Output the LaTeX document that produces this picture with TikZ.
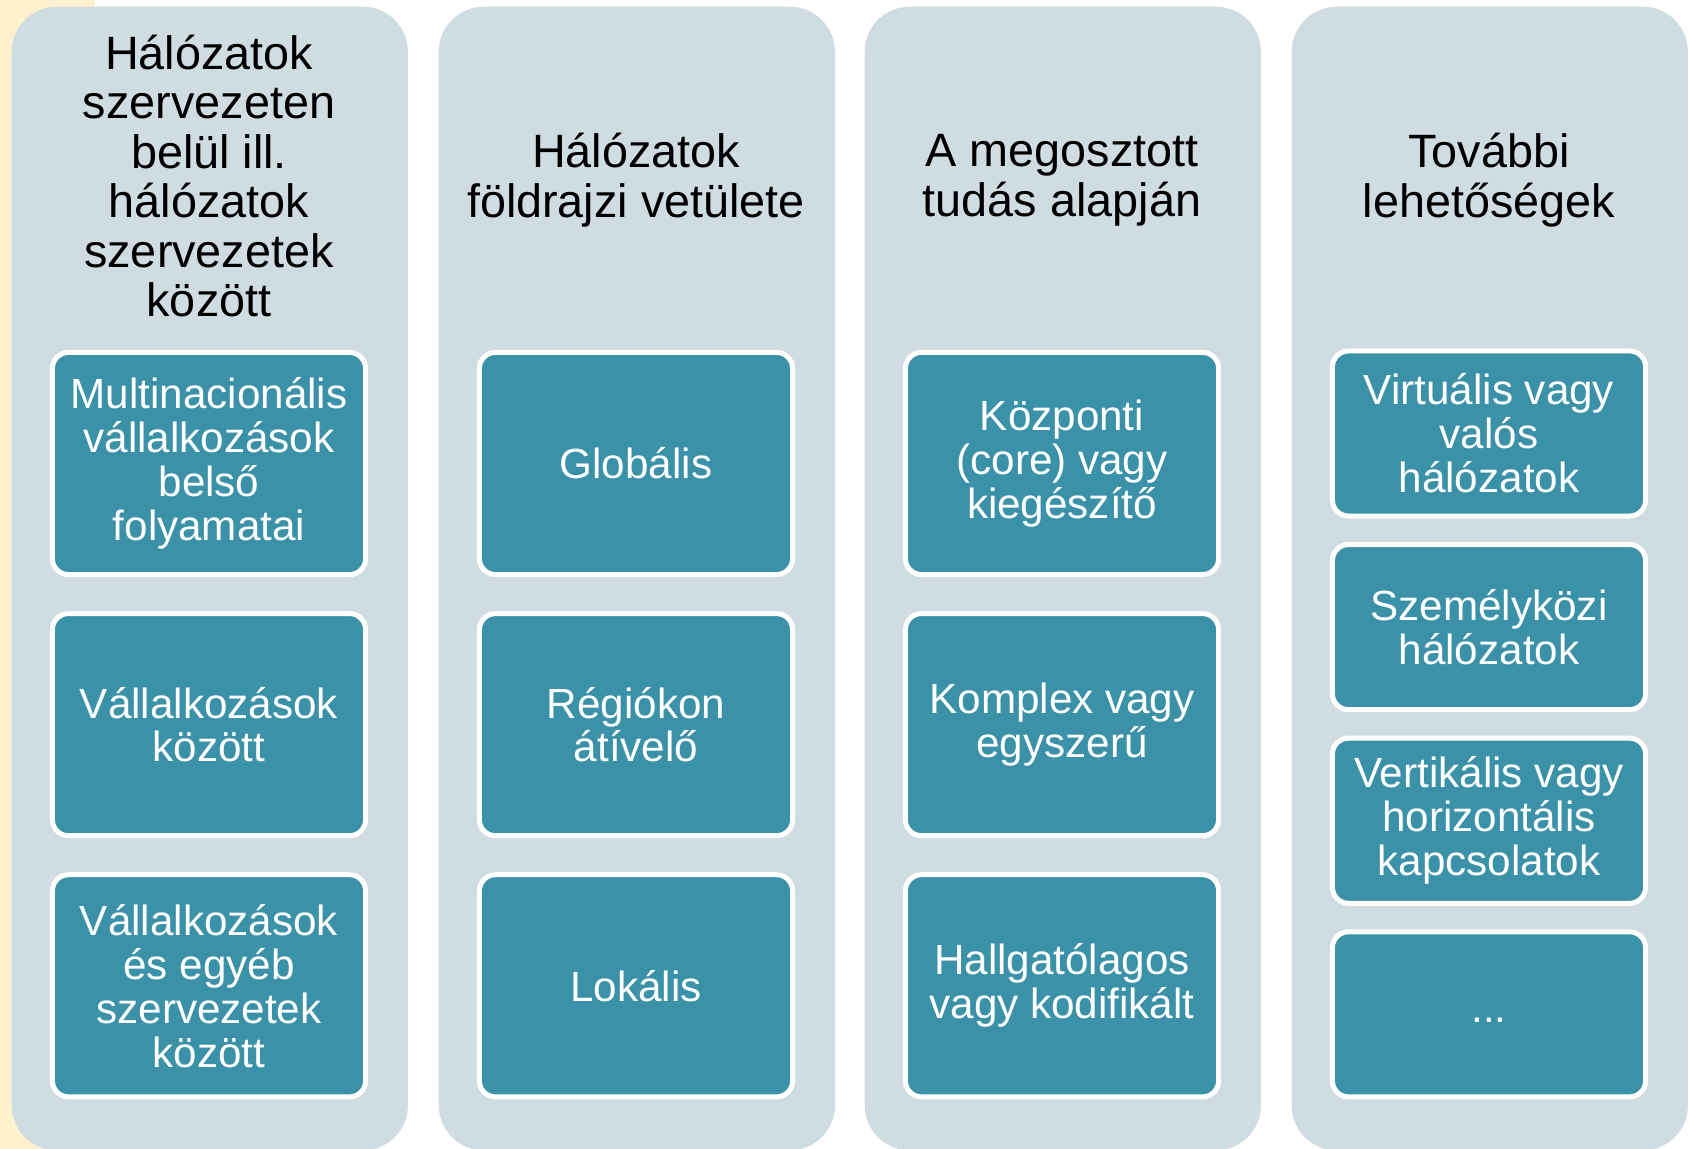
\documentclass[tikz,border=0pt]{standalone}
\usepackage{fontspec}
\setmainfont{Liberation Sans}
\usetikzlibrary{positioning}
\definecolor{cream}{RGB}{255,240,206}
\definecolor{colfill}{RGB}{207,220,226}
\definecolor{itemfill}{RGB}{58,145,168}

\begin{document}
\begin{tikzpicture}[x=0.01cm,y=-0.01cm,
  col/.style={rectangle,rounded corners=0.45cm,fill=colfill,minimum width=3.96cm,minimum height=11.43cm,anchor=north west,inner sep=0pt},
  head/.style={align=center,font=\fontsize{13.3}{14.1}\selectfont,text=black},
  item/.style={rectangle,rounded corners=0.16cm,fill=itemfill,draw=white,line width=0.05cm,minimum width=3.13cm,minimum height=2.22cm,align=center,text=white,font=\fontsize{12}{12.5}\selectfont,inner sep=0pt},
  small/.style={item,minimum height=1.65cm}]

  \useasboundingbox (0,0) rectangle (1690,1149);
  \fill[cream] (0,0) rectangle (95,1149);

  \node[col] (c1) at (11,6) {};
  \node[col] (c2) at (438,6) {};
  \node[col] (c3) at (864,6) {};
  \node[col] (c4) at (1291,6) {};

  \node[head] (h1) at (209,176) {Hálózatok\\szervezeten\\belül ill.\\hálózatok\\szervezetek\\között};
  \node[head] (h2) at (636,180) {Hálózatok\\földrajzi vetülete};
  \node[head] (h3) at (1062,180) {A megosztott\\tudás alapján};
  \node[head] (h4) at (1489,180) {További\\lehetőségek};

  \node[item] (a1) at (209,463.5) {Multinacionális\\vállalkozások\\belső\\folyamatai};
  \node[item] (a2) [below=0.34cm of a1] {Vállalkozások\\között};
  \node[item] (a3) [below=0.34cm of a2] {Vállalkozások\\és egyéb\\szervezetek\\között};

  \node[item] (b1) at (636,463.5) {Globális};
  \node[item] (b2) [below=0.34cm of b1] {Régiókon\\átívelő};
  \node[item] (b3) [below=0.34cm of b2] {Lokális};

  \node[item] (d1) at (1062,463.5) {Központi\\(core) vagy\\kiegészítő};
  \node[item] (d2) [below=0.34cm of d1] {Komplex vagy\\egyszerű};
  \node[item] (d3) [below=0.34cm of d2] {Hallgatólagos\\vagy kodifikált};

  \node[small] (e1) at (1489,433.5) {Virtuális vagy\\valós\\hálózatok};
  \node[small] (e2) [below=0.235cm of e1] {Személyközi\\hálózatok};
  \node[small] (e3) [below=0.235cm of e2] {Vertikális vagy\\horizontális\\kapcsolatok};
  \node[small] (e4) [below=0.235cm of e3] {\raisebox{-0.7ex}{...}};

\end{tikzpicture}
\end{document}
